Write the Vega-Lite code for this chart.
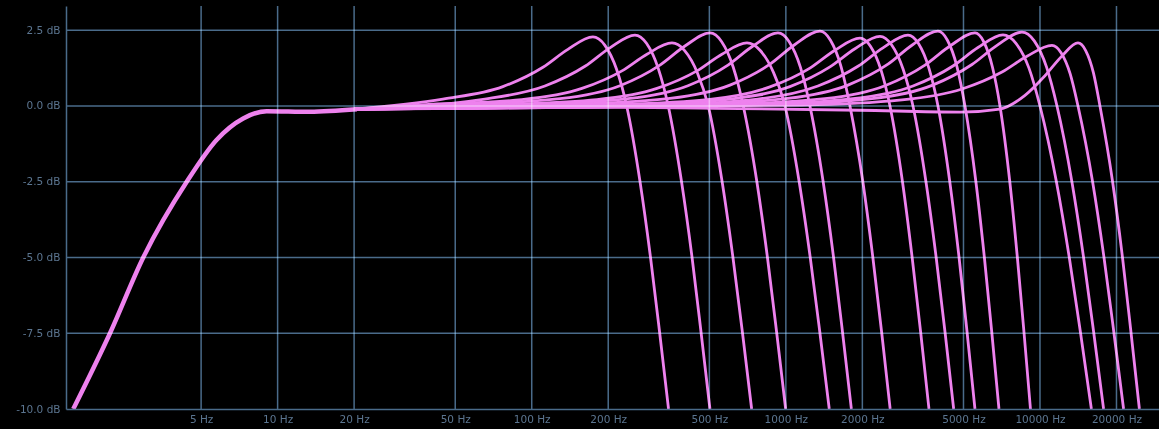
{
  "$schema": "https://vega.github.io/schema/vega-lite/v6.json",
  "width": 1093,
  "height": 403,
  "autosize": {"type": "none"},
  "padding": {"left": 66, "top": 6, "right": 0, "bottom": 20},
  "background": "#000000",
  "config": {"view": {"stroke": null}},
  "datasets": {
    "xticks": [{"hz": 5}, {"hz": 10}, {"hz": 20}, {"hz": 50}, {"hz": 100}, {"hz": 200}, {"hz": 500}, {"hz": 1000}, {"hz": 2000}, {"hz": 5000}, {"hz": 10000}, {"hz": 20000}],
    "yticks": [{"db": -7.5}, {"db": -5}, {"db": -2.5}, {"db": 0}, {"db": 2.5}],
    "highpass": [
      {"hz": 1.57, "db": -10}, {"hz": 2.19, "db": -7.5}, {"hz": 2.96, "db": -5}, {"hz": 4.39, "db": -2.5},
      {"hz": 5.75, "db": -1.12}, {"hz": 7.32, "db": -0.41}, {"hz": 9.05, "db": -0.17}, {"hz": 13.4, "db": -0.19}, {"hz": 20.5, "db": -0.11}
    ],
    "lowpass": [
      {"curve": 1, "hz": 20, "db": -0.1}, {"curve": 1, "hz": 44.7, "db": 0.23}, {"curve": 1, "hz": 77.0, "db": 0.64}, {"curve": 1, "hz": 110.7, "db": 1.28}, {"curve": 1, "hz": 138.8, "db": 1.87}, {"curve": 1, "hz": 174.1, "db": 2.28}, {"curve": 1, "hz": 193.8, "db": 2.01}, {"curve": 1, "hz": 215.7, "db": 1.21}, {"curve": 1, "hz": 236.4, "db": 0}, {"curve": 1, "hz": 266.8, "db": -2.5}, {"curve": 1, "hz": 293.4, "db": -5}, {"curve": 1, "hz": 318.9, "db": -7.5}, {"curve": 1, "hz": 345.4, "db": -10},

      {"curve": 2, "hz": 20, "db": -0.1}, {"curve": 2, "hz": 65.4, "db": 0.23}, {"curve": 2, "hz": 112.7, "db": 0.66}, {"curve": 2, "hz": 162.0, "db": 1.31}, {"curve": 2, "hz": 203.1, "db": 1.92}, {"curve": 2, "hz": 254.8, "db": 2.34}, {"curve": 2, "hz": 283.3, "db": 2.06}, {"curve": 2, "hz": 314.6, "db": 1.24}, {"curve": 2, "hz": 344.5, "db": 0}, {"curve": 2, "hz": 388.6, "db": -2.5}, {"curve": 2, "hz": 427.5, "db": -5}, {"curve": 2, "hz": 464.2, "db": -7.5}, {"curve": 2, "hz": 502.7, "db": -10},

      {"curve": 3, "hz": 20, "db": -0.1}, {"curve": 3, "hz": 37.0, "db": 0.04}, {"curve": 3, "hz": 91.5, "db": 0.21}, {"curve": 3, "hz": 157.6, "db": 0.58}, {"curve": 3, "hz": 226.5, "db": 1.16}, {"curve": 3, "hz": 284.1, "db": 1.71}, {"curve": 3, "hz": 356.3, "db": 2.08}, {"curve": 3, "hz": 399.7, "db": 1.83}, {"curve": 3, "hz": 448.4, "db": 1.1}, {"curve": 3, "hz": 495.0, "db": 0}, {"curve": 3, "hz": 561.4, "db": -2.5}, {"curve": 3, "hz": 619.2, "db": -5}, {"curve": 3, "hz": 675.4, "db": -7.5}, {"curve": 3, "hz": 733.5, "db": -10},

      {"curve": 4, "hz": 20, "db": -0.1}, {"curve": 4, "hz": 52.2, "db": 0.05}, {"curve": 4, "hz": 129.1, "db": 0.24}, {"curve": 4, "hz": 222.4, "db": 0.67}, {"curve": 4, "hz": 319.5, "db": 1.35}, {"curve": 4, "hz": 400.8, "db": 1.98}, {"curve": 4, "hz": 502.7, "db": 2.41}, {"curve": 4, "hz": 559.0, "db": 2.12}, {"curve": 4, "hz": 620.9, "db": 1.28}, {"curve": 4, "hz": 679.9, "db": 0}, {"curve": 4, "hz": 769.0, "db": -2.5}, {"curve": 4, "hz": 846.4, "db": -5}, {"curve": 4, "hz": 920.8, "db": -7.5}, {"curve": 4, "hz": 998.2, "db": -10},

      {"curve": 5, "hz": 20, "db": -0.1}, {"curve": 5, "hz": 73.0, "db": 0.04}, {"curve": 5, "hz": 180.6, "db": 0.21}, {"curve": 5, "hz": 311.0, "db": 0.58}, {"curve": 5, "hz": 446.8, "db": 1.16}, {"curve": 5, "hz": 560.4, "db": 1.71}, {"curve": 5, "hz": 702.9, "db": 2.08}, {"curve": 5, "hz": 792.9, "db": 1.83}, {"curve": 5, "hz": 894.6, "db": 1.1}, {"curve": 5, "hz": 992.0, "db": 0}, {"curve": 5, "hz": 1128.2, "db": -2.5}, {"curve": 5, "hz": 1247.3, "db": -5}, {"curve": 5, "hz": 1362.1, "db": -7.5}, {"curve": 5, "hz": 1481.9, "db": -10},

      {"curve": 6, "hz": 20, "db": -0.1}, {"curve": 6, "hz": 96.6, "db": 0.05}, {"curve": 6, "hz": 239.1, "db": 0.24}, {"curve": 6, "hz": 411.8, "db": 0.67}, {"curve": 6, "hz": 591.9, "db": 1.35}, {"curve": 6, "hz": 742.2, "db": 1.98}, {"curve": 6, "hz": 930.9, "db": 2.41}, {"curve": 6, "hz": 1030.4, "db": 2.12}, {"curve": 6, "hz": 1140.6, "db": 1.28}, {"curve": 6, "hz": 1243.9, "db": 0}, {"curve": 6, "hz": 1402.2, "db": -2.5}, {"curve": 6, "hz": 1540.7, "db": -5}, {"curve": 6, "hz": 1673.0, "db": -7.5}, {"curve": 6, "hz": 1810.5, "db": -10},

      {"curve": 7, "hz": 20, "db": -0.1}, {"curve": 7, "hz": 141.4, "db": 0.05}, {"curve": 7, "hz": 349.9, "db": 0.25}, {"curve": 7, "hz": 602.6, "db": 0.69}, {"curve": 7, "hz": 865.8, "db": 1.38}, {"curve": 7, "hz": 1085.9, "db": 2.03}, {"curve": 7, "hz": 1362.1, "db": 2.47}, {"curve": 7, "hz": 1498.0, "db": 2.17}, {"curve": 7, "hz": 1647.8, "db": 1.31}, {"curve": 7, "hz": 1787.7, "db": 0}, {"curve": 7, "hz": 2009.1, "db": -2.5}, {"curve": 7, "hz": 2199.8, "db": -5}, {"curve": 7, "hz": 2384.5, "db": -7.5}, {"curve": 7, "hz": 2573.4, "db": -10},

      {"curve": 8, "hz": 20, "db": -0.1}, {"curve": 8, "hz": 203.1, "db": 0.04}, {"curve": 8, "hz": 502.7, "db": 0.22}, {"curve": 8, "hz": 865.8, "db": 0.63}, {"curve": 8, "hz": 1243.9, "db": 1.25}, {"curve": 8, "hz": 1560.3, "db": 1.84}, {"curve": 8, "hz": 1957, "db": 2.24}, {"curve": 8, "hz": 2152.3, "db": 1.97}, {"curve": 8, "hz": 2367.4, "db": 1.19}, {"curve": 8, "hz": 2568.7, "db": 0}, {"curve": 8, "hz": 2876.7, "db": -2.5}, {"curve": 8, "hz": 3140.5, "db": -5}, {"curve": 8, "hz": 3395.5, "db": -7.5}, {"curve": 8, "hz": 3657.7, "db": -10},

      {"curve": 9, "hz": 20, "db": -0.1}, {"curve": 9, "hz": 243.5, "db": 0.04}, {"curve": 9, "hz": 602.6, "db": 0.23}, {"curve": 9, "hz": 1037.8, "db": 0.64}, {"curve": 9, "hz": 1491.3, "db": 1.29}, {"curve": 9, "hz": 1870.3, "db": 1.89}, {"curve": 9, "hz": 2345.7, "db": 2.3}, {"curve": 9, "hz": 2605.1, "db": 2.02}, {"curve": 9, "hz": 2892, "db": 1.22}, {"curve": 9, "hz": 3163.8, "db": 0}, {"curve": 9, "hz": 3558.7, "db": -2.5}, {"curve": 9, "hz": 3903.9, "db": -5}, {"curve": 9, "hz": 4235.4, "db": -7.5}, {"curve": 9, "hz": 4574.9, "db": -10},

      {"curve": 10, "hz": 20, "db": -0.1}, {"curve": 10, "hz": 313.8, "db": 0.04}, {"curve": 10, "hz": 776.6, "db": 0.23}, {"curve": 10, "hz": 1337.5, "db": 0.66}, {"curve": 10, "hz": 1921.9, "db": 1.31}, {"curve": 10, "hz": 2410.4, "db": 1.92}, {"curve": 10, "hz": 3023.5, "db": 2.34}, {"curve": 10, "hz": 3325.1, "db": 2.06}, {"curve": 10, "hz": 3657.7, "db": 1.24}, {"curve": 10, "hz": 3968.3, "db": 0}, {"curve": 10, "hz": 4415.9, "db": -2.5}, {"curve": 10, "hz": 4804, "db": -5}, {"curve": 10, "hz": 5170.3, "db": -7.5}, {"curve": 10, "hz": 5548.6, "db": -10},

      {"curve": 11, "hz": 20, "db": -0.1}, {"curve": 11, "hz": 411.8, "db": 0.05}, {"curve": 11, "hz": 1019.3, "db": 0.25}, {"curve": 11, "hz": 1755.5, "db": 0.69}, {"curve": 11, "hz": 2522.4, "db": 1.38}, {"curve": 11, "hz": 3163.8, "db": 2.03}, {"curve": 11, "hz": 3968.3, "db": 2.47}, {"curve": 11, "hz": 4322.9, "db": 2.17}, {"curve": 11, "hz": 4709.8, "db": 1.31}, {"curve": 11, "hz": 5067.5, "db": 0}, {"curve": 11, "hz": 5594.8, "db": -2.5}, {"curve": 11, "hz": 6042.5, "db": -5}, {"curve": 11, "hz": 6466.7, "db": -7.5}, {"curve": 11, "hz": 6896.1, "db": -10},

      {"curve": 12, "hz": 20, "db": -0.1}, {"curve": 12, "hz": 575.9, "db": 0.05}, {"curve": 12, "hz": 1425.2, "db": 0.24}, {"curve": 12, "hz": 2454.6, "db": 0.67}, {"curve": 12, "hz": 3526.8, "db": 1.35}, {"curve": 12, "hz": 4423.8, "db": 1.98}, {"curve": 12, "hz": 5548.6, "db": 2.41}, {"curve": 12, "hz": 6006.4, "db": 2.12}, {"curve": 12, "hz": 6502.7, "db": 1.28}, {"curve": 12, "hz": 6959.8, "db": 0}, {"curve": 12, "hz": 7606.9, "db": -2.5}, {"curve": 12, "hz": 8147.4, "db": -5}, {"curve": 12, "hz": 8657.6, "db": -7.5}, {"curve": 12, "hz": 9174.5, "db": -10},

      {"curve": 13, "hz": 20, "db": -0.1}, {"curve": 13, "hz": 742.2, "db": 0.05}, {"curve": 13, "hz": 1836.6, "db": 0.24}, {"curve": 13, "hz": 3163.8, "db": 0.66}, {"curve": 13, "hz": 4545.8, "db": 1.32}, {"curve": 13, "hz": 5701.6, "db": 1.93}, {"curve": 13, "hz": 7151.7, "db": 2.35}, {"curve": 13, "hz": 8044.2, "db": 2.07}, {"curve": 13, "hz": 9050.6, "db": 1.25}, {"curve": 13, "hz": 10000, "db": 0}, {"curve": 13, "hz": 11604, "db": -2.5}, {"curve": 13, "hz": 13041, "db": -5}, {"curve": 13, "hz": 14447, "db": -7.5}, {"curve": 13, "hz": 15933, "db": -10},

      {"curve": 14, "hz": 20, "db": -0.1}, {"curve": 14, "hz": 881.6, "db": 0.05}, {"curve": 14, "hz": 2181.6, "db": 0.24}, {"curve": 14, "hz": 3758.5, "db": 0.68}, {"curve": 14, "hz": 5400.3, "db": 1.37}, {"curve": 14, "hz": 6773.4, "db": 2.0}, {"curve": 14, "hz": 8495.3, "db": 2.44}, {"curve": 14, "hz": 9493, "db": 2.15}, {"curve": 14, "hz": 10607, "db": 1.29}, {"curve": 14, "hz": 11666, "db": 0}, {"curve": 14, "hz": 13353, "db": -2.5}, {"curve": 14, "hz": 14845, "db": -5}, {"curve": 14, "hz": 16286, "db": -7.5}, {"curve": 14, "hz": 17795, "db": -10},

      {"curve": 15, "hz": 20, "db": -0.1}, {"curve": 15, "hz": 1157.2, "db": 0.03}, {"curve": 15, "hz": 2863.5, "db": 0.2}, {"curve": 15, "hz": 4931.7, "db": 0.56}, {"curve": 15, "hz": 7087.7, "db": 1.12}, {"curve": 15, "hz": 8887.8, "db": 1.64}, {"curve": 15, "hz": 11147, "db": 2.0}, {"curve": 15, "hz": 12106, "db": 1.76}, {"curve": 15, "hz": 13149, "db": 1.06}, {"curve": 15, "hz": 14112, "db": 0}, {"curve": 15, "hz": 16107, "db": -2.5}, {"curve": 15, "hz": 17861, "db": -5}, {"curve": 15, "hz": 19552, "db": -7.5}, {"curve": 15, "hz": 21330, "db": -10},

      {"curve": 16, "hz": 20, "db": -0.1}, {"curve": 16, "hz": 100.2, "db": -0.02}, {"curve": 16, "hz": 459.1, "db": -0.07}, {"curve": 16, "hz": 1957, "db": -0.14}, {"curve": 16, "hz": 4844, "db": -0.2}, {"curve": 16, "hz": 6959.8, "db": -0.1}, {"curve": 16, "hz": 8729.8, "db": 0.35}, {"curve": 16, "hz": 10464, "db": 1.0}, {"curve": 16, "hz": 12207, "db": 1.65}, {"curve": 16, "hz": 14112, "db": 2.08}, {"curve": 16, "hz": 15129, "db": 1.83}, {"curve": 16, "hz": 16225, "db": 1.1}, {"curve": 16, "hz": 17219, "db": 0}, {"curve": 16, "hz": 19307, "db": -2.5}, {"curve": 16, "hz": 21120, "db": -5}, {"curve": 16, "hz": 22830, "db": -7.5}, {"curve": 16, "hz": 24616, "db": -10}
    ]
  },
  "encoding": {
    "x": {"field": "hz", "type": "quantitative",
      "scale": {"type": "log", "domain": [1.47, 29400], "nice": false},
      "axis": {"values": [5, 10, 20, 50, 100, 200, 500, 1000, 2000, 5000, 10000, 20000],
        "labelExpr": "datum.value + ' Hz'", "title": null, "grid": false, "ticks": false,
        "domainColor": "#4a6b8a", "domainWidth": 1.5, "labelColor": "#5b7590", "labelFont": "DejaVu Sans",
        "labelFontSize": 10.5, "labelPadding": 5, "labelFlush": false, "labelOverlap": false, "zindex": 1}},
    "y": {"field": "db", "type": "quantitative",
      "scale": {"domain": [-10, 3.3], "nice": false, "zero": false},
      "axis": {"values": [-10, -7.5, -5, -2.5, 0, 2.5],
        "labelExpr": "(datum.value < 0 ? '-' : '') + format(abs(datum.value), '.1f') + ' dB'", "title": null, "grid": false, "ticks": false,
        "domainColor": "#4a6b8a", "domainWidth": 1.5, "labelColor": "#5b7590", "labelFont": "DejaVu Sans",
        "labelFontSize": 10.5, "labelPadding": 6, "labelFlush": false, "labelOverlap": false, "zindex": 1}}
  },
  "layer": [
    {
      "data": {"name": "highpass"},
      "mark": {"type": "line", "color": "#ee82ee", "strokeWidth": 4.5, "interpolate": "monotone"}
    },
    {
      "data": {"name": "lowpass"},
      "mark": {"type": "line", "color": "#ee82ee", "strokeWidth": 2.8, "interpolate": "monotone"},
      "encoding": {"detail": {"field": "curve"}}
    },
    {
      "data": {"name": "xticks"},
      "mark": {"type": "rule", "color": "#4a6b8a", "strokeWidth": 1.5, "blend": "screen"},
      "encoding": {"y": null}
    },
    {
      "data": {"name": "yticks"},
      "mark": {"type": "rule", "color": "#4a6b8a", "strokeWidth": 1.5, "blend": "screen"},
      "encoding": {"x": null}
    }
  ]
}
